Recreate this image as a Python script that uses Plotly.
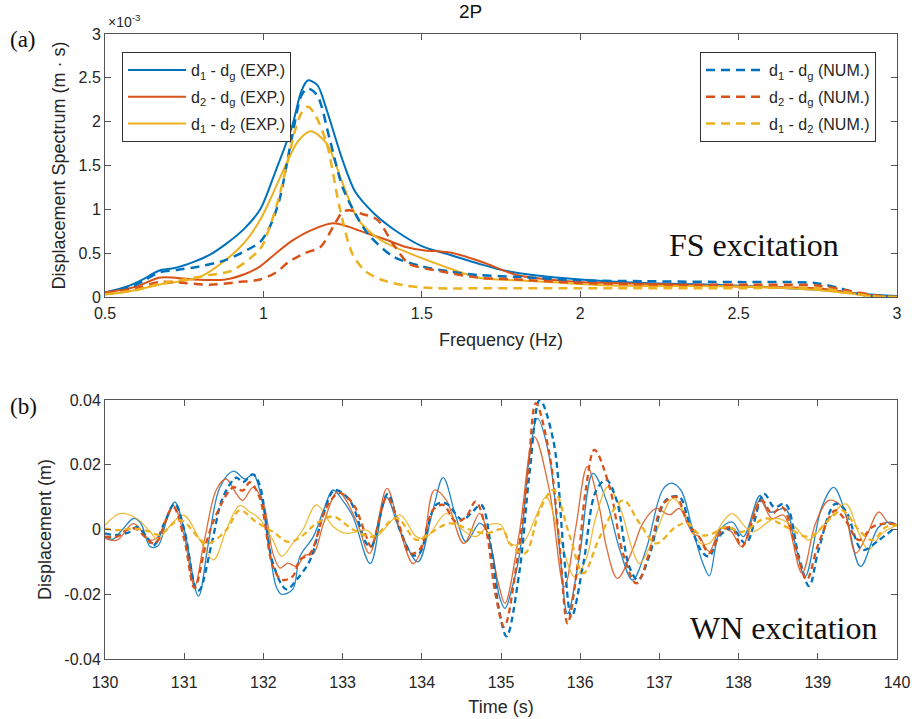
import plotly.graph_objects as go

# ---------------- colours ----------------
C_BLUE = "#0072BD"
C_RED = "#D95319"
C_YEL = "#EDB120"

# ---------------- panel (a): spectra (units of 1e-3 m*s) ----------------
f_d1g_exp = [0.5, 0.57, 0.62, 0.67, 0.72, 0.78, 0.83, 0.88, 0.94, 0.99, 1.04, 1.09, 1.12, 1.14, 1.17, 1.2, 1.25,
             1.29, 1.35, 1.42, 1.5, 1.59, 1.68, 1.75, 1.85, 2.0, 2.2, 2.43, 2.6, 2.8, 2.9, 3.0]
v_d1g_exp = [0.05, 0.12, 0.2, 0.3, 0.33, 0.4, 0.48, 0.6, 0.78, 1.0, 1.45, 1.94, 2.35, 2.47, 2.42, 2.13, 1.56,
             1.2, 0.95, 0.75, 0.58, 0.48, 0.38, 0.31, 0.25, 0.2, 0.16, 0.14, 0.11, 0.07, 0.03, 0.01]

f_d2g_exp = [0.5, 0.6, 0.67, 0.72, 0.78, 0.88, 0.94, 0.99, 1.04, 1.09, 1.15, 1.22, 1.27, 1.3, 1.39, 1.45, 1.51,
             1.56, 1.6, 1.69, 1.8, 1.9, 2.0, 2.2, 2.5, 2.75, 2.85, 2.95, 3.0]
v_d2g_exp = [0.05, 0.12, 0.22, 0.22, 0.2, 0.2, 0.26, 0.35, 0.5, 0.64, 0.76, 0.84, 0.8, 0.76, 0.65, 0.57, 0.53,
             0.52, 0.5, 0.4, 0.25, 0.2, 0.17, 0.15, 0.12, 0.1, 0.05, 0.01, 0.0]

f_d12_exp = [0.5, 0.57, 0.67, 0.8, 0.88, 0.94, 0.99, 1.03, 1.07, 1.11, 1.15, 1.2, 1.25, 1.3, 1.37, 1.46, 1.57,
             1.68, 1.8, 1.9, 2.1, 2.5, 2.75, 2.85, 2.92, 3.0]
v_d12_exp = [0.03, 0.06, 0.14, 0.23, 0.42, 0.62, 0.88, 1.18, 1.5, 1.78, 1.89, 1.75, 1.3, 0.88, 0.65, 0.5, 0.35,
             0.22, 0.19, 0.17, 0.13, 0.12, 0.08, 0.04, 0.01, 0.0]

f_d1g_num = [0.5, 0.57, 0.62, 0.67, 0.73, 0.8, 0.88, 0.94, 0.99, 1.02, 1.05, 1.09, 1.12, 1.14, 1.17, 1.21, 1.25,
             1.29, 1.33, 1.41, 1.5, 1.59, 1.68, 1.8, 2.0, 2.2, 2.5, 2.74, 2.82, 2.9, 3.0]
v_d1g_num = [0.05, 0.1, 0.18, 0.28, 0.31, 0.35, 0.42, 0.52, 0.63, 0.8, 1.1, 1.82, 2.3, 2.38, 2.3, 1.79, 1.25,
             0.95, 0.72, 0.46, 0.35, 0.29, 0.25, 0.23, 0.19, 0.18, 0.17, 0.16, 0.1, 0.02, 0.01]

f_d2g_num = [0.5, 0.6, 0.67, 0.75, 0.83, 0.92, 0.99, 1.04, 1.08, 1.13, 1.18, 1.22, 1.25, 1.27, 1.31, 1.36, 1.41,
             1.46, 1.55, 1.68, 1.8, 2.0, 2.3, 2.5, 2.75, 2.85, 2.95, 3.0]
v_d2g_num = [0.05, 0.1, 0.17, 0.16, 0.14, 0.17, 0.2, 0.28, 0.4, 0.5, 0.57, 0.8, 0.97, 0.99, 0.95, 0.88, 0.6,
             0.38, 0.3, 0.22, 0.2, 0.16, 0.14, 0.14, 0.13, 0.07, 0.01, 0.0]

f_d12_num = [0.5, 0.6, 0.67, 0.75, 0.83, 0.9, 0.99, 1.02, 1.05, 1.08, 1.1, 1.12, 1.14, 1.16, 1.2, 1.24, 1.28,
             1.32, 1.37, 1.45, 1.55, 1.7, 2.0, 2.5, 2.75, 2.85, 2.92, 3.0]
v_d12_num = [0.03, 0.08, 0.15, 0.2, 0.25, 0.3, 0.55, 0.8, 1.15, 1.6, 1.9, 2.1, 2.17, 2.1, 1.75, 1.03, 0.5,
             0.3, 0.2, 0.13, 0.1, 0.1, 0.1, 0.1, 0.1, 0.05, 0.01, 0.0]

# ---------------- panel (b): time histories (m) ----------------
t_d1g_exp = [130.0, 130.1, 130.22, 130.36, 130.45, 130.57, 130.67, 130.78, 130.88, 131.0, 131.18, 131.3, 131.45,
             131.62, 131.77, 131.87, 132.0, 132.16, 132.23, 132.37, 132.46, 132.63, 132.76, 132.88, 133.0, 133.13,
             133.35, 133.55, 133.72, 133.95, 134.14, 134.27, 134.43, 134.56, 134.73, 134.81, 134.9, 134.98, 135.05,
             135.14, 135.23, 135.36, 135.46, 135.61, 135.74, 135.84, 135.99, 136.16, 136.33, 136.5, 136.66, 136.83,
             137.04, 137.15, 137.27, 137.42, 137.55, 137.63, 137.77, 137.92, 138.06, 138.27, 138.39, 138.59, 138.7,
             138.84, 139.05, 139.2, 139.35, 139.54, 139.77, 139.92, 140.0]
d_d1g_exp = [-0.0022, -0.003, 0.0, 0.0034, 0.002, -0.0053, -0.005, 0.003, 0.0085, 0.0, -0.0206, -0.005, 0.013,
             0.018, 0.0156, 0.017, 0.007, -0.0175, -0.020, -0.0185, -0.0084, -0.0022, 0.006, 0.0122, 0.009, 0.004,
             -0.0105, 0.010, 0.0, -0.010, 0.006, 0.016, 0.004, -0.0038, 0.002, 0.0, -0.008, -0.0207, -0.0244,
             -0.018, -0.0084, 0.0225, 0.0343, 0.0225, -0.0063, -0.026, -0.0084, 0.0173, 0.009, -0.0063, -0.0156,
             -0.0063, 0.0122, 0.0143, 0.0122, 0.0, -0.0105, -0.0143, 0.0, 0.0023, -0.0022, 0.0105, 0.0054, 0.0064,
             -0.003, -0.0145, 0.0069, 0.013, 0.0049, -0.0114, 0.0008, 0.0023, 0.0013]

t_d1g_num = [130.0, 130.15, 130.32, 130.4, 130.52, 130.61, 130.75, 130.88, 131.0, 131.16, 131.2, 131.35, 131.49,
             131.66, 131.74, 131.87, 131.95, 132.12, 132.29, 132.42, 132.59, 132.76, 132.9, 133.09, 133.3, 133.36,
             133.57, 133.72, 133.89, 133.97, 134.18, 134.31, 134.51, 134.64, 134.75, 134.89, 134.97, 135.07, 135.23,
             135.36, 135.49, 135.66, 135.79, 135.89, 136.04, 136.2, 136.33, 136.46, 136.62, 136.73, 136.87, 137.08,
             137.25, 137.38, 137.55, 137.63, 137.75, 137.92, 138.09, 138.32, 138.45, 138.59, 138.76, 138.89, 139.01,
             139.22, 139.35, 139.56, 139.77, 139.96]
d_d1g_num = [-0.0012, -0.0017, -0.0007, 0.0008, -0.002, -0.005, 0.002, 0.008, 0.0, -0.019, -0.0185, -0.004, 0.01,
             0.016, 0.0146, 0.017, 0.014, -0.0104, -0.0185, -0.0155, -0.0094, 0.005, 0.0122, 0.009, -0.0043, -0.0053,
             0.011, 0.0, -0.0079, -0.0074, 0.0076, 0.008, 0.003, 0.0055, 0.0076, -0.0084, -0.024, -0.033, -0.0135,
             0.0173, 0.040, 0.0276, -0.0063, -0.027, -0.0105, 0.012, 0.0153, 0.009, -0.0115, -0.0156, -0.0084, 0.009,
             0.0101, 0.0019, -0.0073, -0.0083, -0.0022, 0.0003, -0.0043, 0.011, 0.0069, 0.0079, -0.0083, -0.0175,
             -0.0063, 0.0079, 0.0059, -0.0063, -0.0033, 0.0003]

t_d2g_exp = [130.0, 130.15, 130.36, 130.57, 130.67, 130.86, 131.0, 131.13, 131.25, 131.41, 131.53, 131.66, 131.74,
             131.87, 132.0, 132.12, 132.21, 132.31, 132.42, 132.52, 132.63, 132.76, 132.94, 133.17, 133.34, 133.56,
             133.72, 133.89, 134.01, 134.16, 134.31, 134.53, 134.73, 134.83, 134.98, 135.05, 135.23, 135.42, 135.61,
             135.8, 135.94, 136.09, 136.24, 136.33, 136.47, 136.66, 136.79, 136.96, 137.13, 137.25, 137.42, 137.5,
             137.63, 137.77, 137.9, 138.04, 138.27, 138.42, 138.57, 138.8, 138.97, 139.14, 139.31, 139.48, 139.62,
             139.77, 139.9, 140.0]
d_d2g_exp = [-0.0027, -0.0033, 0.0018, -0.0033, -0.0022, 0.0074, -0.002, -0.0175, -0.004, 0.0125, 0.0156, 0.011,
             0.009, 0.013, 0.008, -0.0073, -0.0119, -0.0104, -0.0114, -0.008, -0.0075, 0.0019, 0.0117, 0.003,
             -0.0074, 0.0127, 0.0, -0.0105, -0.0053, 0.0122, 0.009, -0.0043, 0.005, -0.0012, -0.018, -0.0228,
             -0.0012, 0.0287, 0.0122, -0.0177, 0.0, 0.0194, 0.007, -0.0053, -0.0151, -0.0063, 0.0019, 0.0065,
             0.0045, 0.0065, -0.0012, -0.0022, -0.0068, 0.0003, -0.0005, -0.0053, 0.009, 0.0034, 0.0044, -0.0134,
             0.0018, 0.009, 0.0069, -0.0073, -0.0017, 0.0054, 0.0018, 0.0015]

t_d2g_num = [130.0, 130.15, 130.27, 130.38, 130.57, 130.64, 130.86, 131.0, 131.13, 131.28, 131.41, 131.62, 131.74,
             131.83, 131.95, 132.12, 132.23, 132.37, 132.46, 132.59, 132.8, 132.96, 133.13, 133.3, 133.36, 133.56,
             133.72, 133.85, 133.97, 134.14, 134.27, 134.43, 134.56, 134.68, 134.81, 134.93, 135.04, 135.21, 135.34,
             135.44, 135.61, 135.74, 135.84, 135.97, 136.07, 136.18, 136.37, 136.54, 136.71, 136.87, 137.04, 137.21,
             137.36, 137.5, 137.63, 137.8, 137.92, 138.04, 138.29, 138.42, 138.55, 138.76, 138.86, 139.01, 139.22,
             139.35, 139.52, 139.69, 139.86, 140.0]
d_d2g_num = [-0.0022, -0.0022, -0.0002, 0.0003, -0.0038, -0.0043, 0.0069, -0.003, -0.018, -0.004, 0.0049, 0.013,
             0.012, 0.0146, 0.01, -0.0114, -0.0155, -0.0145, -0.0094, -0.0074, 0.007, 0.0112, 0.008, -0.0022,
             -0.0053, 0.010, 0.0009, -0.0074, -0.0063, 0.006, 0.0076, 0.0024, 0.004, 0.0086, 0.0, -0.02, -0.030,
             -0.0084, 0.0173, 0.039, 0.0235, -0.0053, -0.029, -0.0105, 0.0122, 0.0246, 0.0132, -0.0074, -0.0166,
             -0.0074, 0.0076, 0.0101, 0.0019, -0.0022, -0.0073, 0.0, 0.0005, -0.0053, 0.009, 0.005, 0.0069, -0.0094,
             -0.0155, -0.0043, 0.0059, 0.0028, -0.0033, 0.0008, 0.0018, 0.0015]

t_d12_exp = [130.0, 130.19, 130.4, 130.57, 130.67, 130.74, 130.99, 131.2, 131.37, 131.53, 131.7, 131.83, 131.95,
             132.12, 132.23, 132.37, 132.5, 132.67, 132.88, 133.04, 133.3, 133.42, 133.72, 133.93, 134.05, 134.31,
             134.51, 134.68, 134.85, 135.0, 135.11, 135.27, 135.44, 135.57, 135.74, 135.93, 136.07, 136.2, 136.35,
             136.5, 136.66, 136.75, 136.92, 137.17, 137.34, 137.5, 137.63, 137.8, 137.92, 138.17, 138.46, 138.71,
             138.88, 139.09, 139.35, 139.52, 139.64, 139.81, 140.0]
d_d12_exp = [0.0013, 0.0049, 0.0034, -0.0007, -0.0033, -0.0012, 0.0044, -0.0033, -0.0094, -0.0002, 0.0074, 0.0054,
             0.0034, -0.0033, -0.0083, -0.0043, 0.0, 0.0076, 0.0009, -0.0012, -0.0002, -0.0022, 0.0045, -0.0022,
             -0.0027, 0.005, 0.0, -0.0022, 0.0014, 0.0014, -0.0043, -0.0043, 0.004, 0.0101, -0.0022, -0.0146,
             -0.0094, 0.004, 0.0132, 0.007, -0.0063, -0.0105, -0.0032, 0.0096, 0.004, -0.004, -0.0043, 0.0023,
             0.0049, -0.0007, 0.0034, 0.0008, -0.0033, 0.0018, 0.0079, -0.0012, -0.0063, -0.0012, 0.0013]

t_d12_num = [130.0, 130.15, 130.36, 130.57, 130.69, 130.95, 131.28, 131.53, 131.7, 131.91, 132.12, 132.31, 132.46,
             132.67, 132.88, 133.13, 133.38, 133.68, 133.93, 134.1, 134.35, 134.6, 134.81, 135.02, 135.11, 135.3,
             135.49, 135.66, 135.87, 136.04, 136.25, 136.54, 136.75, 136.96, 137.21, 137.36, 137.5, 137.63, 137.84,
             138.05, 138.34, 138.6, 138.89, 139.18, 139.31, 139.52, 139.69, 139.86, 140.0]
d_d12_num = [0.0003, -0.0002, 0.0003, -0.0007, -0.0017, 0.0029, -0.0043, -0.0002, 0.0059, 0.0023, -0.0007, -0.0038,
             -0.0025, 0.0019, 0.004, 0.0, -0.0022, 0.0035, -0.0032, -0.0012, 0.0019, 0.0, -0.0012, 0.0, -0.0043,
             -0.0074, 0.006, 0.0122, -0.0022, -0.0135, -0.0022, 0.009, 0.0019, -0.0043, 0.0009, 0.0019, -0.0015,
             -0.0017, 0.0008, -0.0007, 0.0034, 0.0008, -0.0022, 0.0039, 0.0059, -0.0002, -0.0033, 0.0008, 0.0013]

freq_ticks = [0.5, 1, 1.5, 2, 2.5, 3]
freq_ticktext = ["0.5", "1", "1.5", "2", "2.5", "3"]
spec_ticks = [0, 0.5, 1, 1.5, 2, 2.5, 3]
spec_ticktext = ["0", "0.5", "1", "1.5", "2", "2.5", "3"]
time_ticks = list(range(130, 141))
disp_ticks = [-0.04, -0.02, 0, 0.02, 0.04]
disp_ticktext = ["-0.04", "-0.02", "0", "0.02", "0.04"]

NAMES = {
    "d1g_exp": "d<sub>1</sub> - d<sub>g</sub> (EXP.)",
    "d2g_exp": "d<sub>2</sub> - d<sub>g</sub> (EXP.)",
    "d12_exp": "d<sub>1</sub> - d<sub>2</sub> (EXP.)",
    "d1g_num": "d<sub>1</sub> - d<sub>g</sub> (NUM.)",
    "d2g_num": "d<sub>2</sub> - d<sub>g</sub> (NUM.)",
    "d12_num": "d<sub>1</sub> - d<sub>2</sub> (NUM.)",
}

W, H = 916, 719
def px(x):
    return x / W
def py(y):
    return 1 - y / H

fig = go.Figure()

top_exp = [("d1g_exp", f_d1g_exp, v_d1g_exp, C_BLUE), ("d2g_exp", f_d2g_exp, v_d2g_exp, C_RED),
           ("d12_exp", f_d12_exp, v_d12_exp, C_YEL)]
top_num = [("d1g_num", f_d1g_num, v_d1g_num, C_BLUE), ("d2g_num", f_d2g_num, v_d2g_num, C_RED),
           ("d12_num", f_d12_num, v_d12_num, C_YEL)]

for key, x, y, c in top_exp:
    fig.add_trace(go.Scatter(x=x, y=y, mode="lines", name=NAMES[key], legend="legend", legendgroup=key,
                             line=dict(color=c, width=2, shape="spline", smoothing=0.8),
                             xaxis="x", yaxis="y"))
for key, x, y, c in top_num:
    fig.add_trace(go.Scatter(x=x, y=y, mode="lines", name=NAMES[key], legend="legend2", legendgroup=key,
                             line=dict(color=c, width=2.5, dash="9px,6px", shape="spline", smoothing=0.8),
                             xaxis="x", yaxis="y"))

bot_exp = [(t_d1g_exp, d_d1g_exp, C_BLUE), (t_d2g_exp, d_d2g_exp, C_RED), (t_d12_exp, d_d12_exp, C_YEL)]
bot_num = [(t_d1g_num, d_d1g_num, C_BLUE), (t_d2g_num, d_d2g_num, C_RED), (t_d12_num, d_d12_num, C_YEL)]
for x, y, c in bot_exp:
    fig.add_trace(go.Scatter(x=x, y=y, mode="lines", showlegend=False, opacity=0.85,
                             line=dict(color=c, width=1.3, shape="spline", smoothing=1.0),
                             xaxis="x2", yaxis="y2"))
for x, y, c in bot_num:
    fig.add_trace(go.Scatter(x=x, y=y, mode="lines", showlegend=False,
                             line=dict(color=c, width=2.3, dash="6px,4px", shape="spline", smoothing=1.0),
                             xaxis="x2", yaxis="y2"))

SANS = "Liberation Sans, Arial"
SERIF = "Liberation Serif, Times New Roman"
tickfont = dict(family=SANS, size=16, color="#262626")
titlefont = dict(family=SANS, size=18, color="#262626")
axis_common = dict(showline=True, linecolor="#555555", linewidth=1, mirror="ticks", ticks="inside",
                   ticklen=6, tickcolor="#555555", showgrid=False, zeroline=False, automargin=False,
                   tickfont=tickfont)
legfont = dict(family=SANS, size=16, color="#262626")

fig.update_layout(
    width=W, height=H, margin=dict(l=0, r=0, t=0, b=0),
    paper_bgcolor="white", plot_bgcolor="white",
    xaxis=dict(domain=[px(105), px(897)], range=[0.5, 3], tickvals=freq_ticks, ticktext=freq_ticktext,
               anchor="y", ticklabelstandoff=2,
               title=dict(text="Frequency (Hz)", font=titlefont, standoff=12), **axis_common),
    yaxis=dict(domain=[py(297), py(34)], range=[0, 3], tickvals=spec_ticks, ticktext=spec_ticktext,
               anchor="x", title=dict(text="Displacement Spectrum (m · s)", font=titlefont, standoff=8),
               **axis_common),
    xaxis2=dict(domain=[px(105), px(897)], range=[130, 140], tickvals=time_ticks, anchor="y2",
                ticklabelstandoff=9,
                title=dict(text="Time (s)", font=titlefont, standoff=10), **axis_common),
    yaxis2=dict(domain=[py(659), py(400)], range=[-0.04, 0.04], tickvals=disp_ticks, ticktext=disp_ticktext,
                anchor="x2", title=dict(text="Displacement (m)", font=titlefont, standoff=8), **axis_common),
    legend=dict(x=px(122), y=py(52), xanchor="left", yanchor="top", bgcolor="white",
                bordercolor="#333333", borderwidth=1, tracegroupgap=3, itemwidth=58, font=legfont),
    legend2=dict(x=px(700), y=py(52), xanchor="left", yanchor="top", bgcolor="white",
                 bordercolor="#333333", borderwidth=1, tracegroupgap=3, itemwidth=58, font=legfont),
    annotations=[
        dict(text="2P", x=px(470), y=py(11), xref="paper", yref="paper", showarrow=False, xanchor="center",
             yanchor="middle", font=dict(family=SANS, size=19, color="#111111")),
        dict(text="×10<sup>-3</sup>", x=px(106), y=py(21), xref="paper", yref="paper", showarrow=False,
             xanchor="left", yanchor="middle", font=dict(family=SANS, size=14, color="#262626")),
        dict(text="(a)", x=px(8), y=py(40), xref="paper", yref="paper", showarrow=False, xanchor="left",
             yanchor="middle", font=dict(family=SERIF, size=23, color="#111111")),
        dict(text="(b)", x=px(8), y=py(406), xref="paper", yref="paper", showarrow=False, xanchor="left",
             yanchor="middle", font=dict(family=SERIF, size=23, color="#111111")),
        dict(text="FS excitation", x=px(754), y=py(245), xref="paper", yref="paper", showarrow=False,
             xanchor="center", yanchor="middle", font=dict(family=SERIF, size=32, color="#111111")),
        dict(text="WN excitation", x=px(783), y=py(628), xref="paper", yref="paper", showarrow=False,
             xanchor="center", yanchor="middle", font=dict(family=SERIF, size=32, color="#111111")),
    ],
)

fig.write_html("out.html", config={"displayModeBar": False},
               post_script="document.body.style.margin='0px';")
